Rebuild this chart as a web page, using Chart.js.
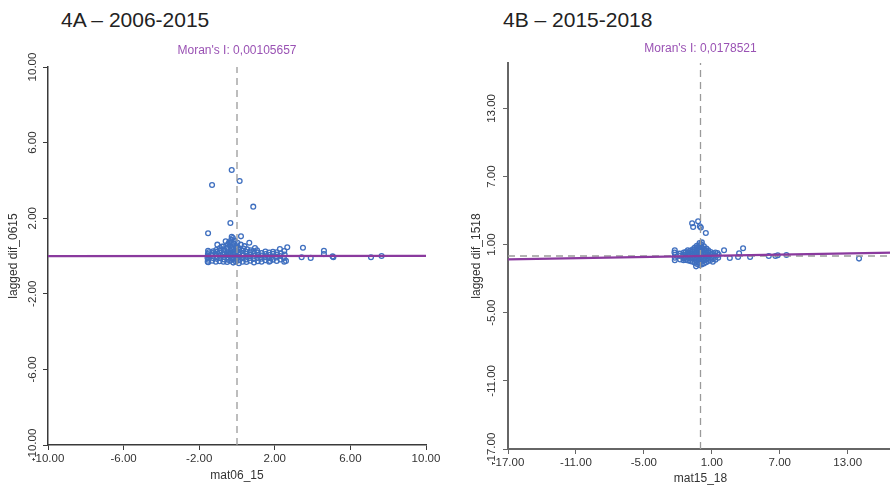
<!DOCTYPE html>
<html>
<head>
<meta charset="utf-8">
<script src="https://cdn.jsdelivr.net/npm/chart.js@4.4.1/dist/chart.umd.min.js"></script>
<style>
  body { margin: 0; width: 890px; height: 487px; overflow: hidden; background: #fff; position: relative; }
  .panel { position: absolute; top: 0; height: 487px; }
  #p1 { left: 0; width: 445px; }
  #p2 { left: 445px; width: 460px; }
  .head { position: absolute; top: 9px; font: 21px/21px "Liberation Sans", sans-serif; color: #222; white-space: nowrap; }
</style>
</head>
<body>
<div class="head" style="left:61px">4A – 2006-2015</div>
<div class="head" style="left:503px">4B – 2015-2018</div>
<div class="panel" id="p1"><canvas id="c1" width="445" height="487"></canvas></div>
<div class="panel" id="p2"><canvas id="c2" width="460" height="487"></canvas></div>
<script>
// data: [x, lagged y]
let pts0615 = [
  [-0.28,4.55],[-1.32,3.76],[0.14,3.97],[0.86,2.61],[-0.35,1.75],[-1.53,1.2],[0.21,1.04],[-0.28,1.02],
  [-1.04,0.6],[-0.6,0.78],[0.65,0.7],[3.49,0.44],[2.66,0.46],[2.27,0.37],[4.6,0.28],[4.6,0.1],
  [3.42,-0.07],[3.9,-0.1],[5.06,-0.02],[5.1,-0.07],[7.09,-0.07],[7.65,0],[2.59,-0.26],[1.75,-0.26],[-1.52,-0.33],
  [-0.22,0.95],[-0.12,0.8],[0.02,0.7],[-0.42,0.72],[0.2,0.6],[-0.8,0.5],[0.4,0.52],[0.95,0.42],
  [-1.55,-0.3],[-1.52,-0.2],[-1.56,-0.1],[-1.5,0.0],[-1.54,0.1],[-1.49,0.2],[-1.53,0.28],
  [-1.32,-0.25],[-1.28,-0.1],[-1.34,0.05],[-1.3,0.15],[-1.26,0.25],
  [-1.12,-0.3],[-1.08,-0.15],[-1.1,0.0],[-1.14,0.12],[-1.06,0.22],[-1.1,0.32],
  [-0.92,-0.28],[-0.88,-0.12],[-0.9,0.02],[-0.94,0.18],[-0.86,0.3],[-0.9,0.42],
  [-0.72,-0.3],[-0.68,-0.18],[-0.7,-0.05],[-0.74,0.08],[-0.66,0.2],[-0.7,0.35],[-0.72,0.5],
  [-0.52,-0.32],[-0.48,-0.2],[-0.5,-0.06],[-0.54,0.06],[-0.46,0.16],[-0.5,0.3],[-0.52,0.45],[-0.48,0.62],
  [-0.36,-0.25],[-0.32,-0.1],[-0.35,0.04],[-0.38,0.14],[-0.34,0.28],[-0.3,0.4],[-0.36,0.55],[-0.33,0.7],[-0.3,0.86],
  [-0.2,-0.35],[-0.18,-0.2],[-0.22,-0.08],[-0.2,0.1],[-0.16,0.22],[-0.2,0.36],[-0.24,0.48],[-0.18,0.65],
  [-0.06,-0.3],[-0.02,-0.15],[-0.05,0.0],[-0.08,0.12],[-0.03,0.25],[-0.06,0.4],[-0.04,0.52],
  [0.1,-0.38],[0.12,-0.22],[0.08,-0.06],[0.1,0.08],[0.14,0.2],[0.1,0.33],[0.06,0.45],
  [0.3,-0.3],[0.28,-0.12],[0.32,0.02],[0.3,0.15],[0.26,0.28],[0.34,0.4],
  [0.5,-0.32],[0.48,-0.18],[0.52,-0.02],[0.5,0.12],[0.46,0.24],[0.54,0.36],
  [0.7,-0.25],[0.68,-0.1],[0.72,0.06],[0.7,0.2],[0.74,0.3],
  [0.9,-0.34],[0.88,-0.16],[0.92,0.0],[0.9,0.14],[0.86,0.26],
  [1.1,-0.28],[1.08,-0.1],[1.12,0.04],[1.1,0.18],[1.06,0.3],
  [1.3,-0.3],[1.28,-0.14],[1.32,0.02],[1.3,0.16],
  [1.5,-0.22],[1.48,-0.06],[1.52,0.1],[1.5,0.24],
  [1.7,-0.3],[1.68,-0.12],[1.72,0.05],[1.7,0.18],
  [1.9,-0.2],[1.88,-0.04],[1.92,0.12],[1.9,0.22],
  [2.1,-0.26],[2.08,-0.08],[2.12,0.08],[2.1,0.2],
  [2.3,-0.18],[2.28,0.0],[2.32,0.14],
  [2.5,-0.3],[2.48,-0.1],[2.52,0.08],[2.5,0.26]
];
let pts1518 = [
  [-0.74,2.89],[-0.21,3.06],[-0.65,2.56],[-0.06,2.62],[0.03,2.5],[0.47,2.03],[2.08,0.5],[3.76,0.68],
  [3.41,0.24],[3.32,-0.09],[2.59,-0.18],[4.38,-0.09],[6.03,0],[6.62,0],[6.82,0.06],[7.59,0.09],[14.0,-0.23],
  [-2.27,0.5],[-2.27,-0.38],[-2.27,-0.15],[-1.89,0.21],[-1.5,-0.38],[-0.39,-0.91],[1.5,0.26],[1.56,-0.15],
  [1.32,-0.32],[1.09,-0.5],
  [-2.3,0.3],[-2.25,0.1],[-1.8,-0.3],[-1.82,0.0],[-1.78,0.2],
  [-1.5,-0.2],[-1.52,0.1],[-1.48,0.3],
  [-1.3,-0.35],[-1.32,-0.1],[-1.28,0.15],[-1.3,0.35],
  [-1.1,-0.4],[-1.12,-0.15],[-1.08,0.1],[-1.1,0.3],[-1.12,0.5],
  [-0.9,-0.45],[-0.92,-0.2],[-0.88,0.05],[-0.9,0.25],[-0.92,0.45],
  [-0.7,-0.5],[-0.72,-0.25],[-0.68,0.0],[-0.7,0.2],[-0.72,0.4],[-0.68,0.6],
  [-0.5,-0.6],[-0.52,-0.35],[-0.48,-0.1],[-0.5,0.15],[-0.52,0.35],[-0.48,0.55],[-0.5,0.75],
  [-0.3,-0.7],[-0.32,-0.45],[-0.28,-0.2],[-0.3,0.05],[-0.32,0.3],[-0.28,0.5],[-0.3,0.7],[-0.32,0.9],
  [-0.1,-0.8],[-0.12,-0.55],[-0.08,-0.3],[-0.1,-0.05],[-0.12,0.2],[-0.08,0.45],[-0.1,0.7],[-0.12,0.95],[-0.08,1.15],
  [0.1,-0.75],[0.08,-0.5],[0.12,-0.25],[0.1,0.0],[0.08,0.25],[0.12,0.5],[0.1,0.75],[0.08,1.0],[0.12,1.2],
  [0.3,-0.65],[0.28,-0.4],[0.32,-0.15],[0.3,0.1],[0.28,0.35],[0.32,0.6],[0.3,0.85],
  [0.5,-0.55],[0.48,-0.3],[0.52,-0.05],[0.5,0.2],[0.48,0.45],[0.52,0.65],
  [0.7,-0.45],[0.68,-0.2],[0.72,0.05],[0.7,0.3],[0.68,0.5],
  [0.9,-0.35],[0.92,-0.1],[0.88,0.15],[0.9,0.35],
  [1.1,-0.25],[1.12,0.0],[1.08,0.2],
  [1.3,0.05],[1.32,0.3],[1.6,0.1]
];

// axes
let ticks0615 = [-10, -6, -2, 2, 6, 10];
let range0615 = [-10, 10];
let ticks1518 = [-17, -11, -5, 1, 7, 13];
let range1518 = [-17, 17];

// moran's I (slope of the fitted line)
let moran = [0.00105657, 0.0178521];
let moranText = ["Moran's I: 0,00105657", "Moran's I: 0,0178521"];

const FONT = "'Liberation Sans', Arial, Helvetica, sans-serif";

// R style y tick labels: rotated, centred on the tick
function yLabelsPlugin(labelX) {
  return {
    id: "yLabels",
    afterDraw(chart) {
      let s = chart.scales.y;
      let ctx = chart.ctx;
      ctx.save();
      ctx.font = "11.5px " + FONT;
      ctx.fillStyle = "#333";
      ctx.textAlign = "center";
      ctx.textBaseline = "middle";
      s.ticks.forEach((t) => {
        ctx.save();
        ctx.translate(labelX, s.getPixelForValue(t.value));
        ctx.rotate(-Math.PI / 2);
        ctx.fillText(t.value.toFixed(2), 0, 0);
        ctx.restore();
      });
      ctx.restore();
    },
  };
}

function buildChart(canvas, p) {
  let [lo, hi] = p.range;
  let slope = p.moran;
  return new Chart(canvas, {
    type: "scatter",
    data: {
      datasets: [
        {
          // fitted line
          data: [{ x: lo, y: slope * lo }, { x: hi, y: slope * hi }],
          showLine: true,
          borderColor: "#8a3a9e",
          borderWidth: 2.2,
          pointRadius: 0,
          order: 0,
        },
        {
          // mean lines
          data: [{ x: 0, y: lo }, { x: 0, y: hi }],
          showLine: true,
          borderColor: "#9a9a9a",
          borderWidth: 1.3,
          borderDash: [7, 5],
          pointRadius: 0,
          order: 1,
        },
        {
          data: [{ x: lo, y: 0 }, { x: hi, y: 0 }],
          showLine: true,
          borderColor: "#9a9a9a",
          borderWidth: 1.3,
          borderDash: [7, 5],
          pointRadius: 0,
          order: 1,
        },
        {
          data: p.pts.map(([x, y]) => ({ x, y })),
          borderColor: "#3f6fbf",
          backgroundColor: "rgba(0,0,0,0)",
          borderWidth: 1.3,
          pointRadius: 2.4,
          order: 2,
        },
      ],
    },
    plugins: [yLabelsPlugin(p.yTickX)],
    options: {
      responsive: false,
      animation: false,
      layout: { padding: { top: 0, right: p.padRight, left: 0, bottom: 0 } },
      plugins: {
        legend: { display: false },
        tooltip: { enabled: false },
        title: {
          display: true,
          text: p.title,
          fullSize: false,
          color: "#9a52b4",
          font: { family: FONT, size: 12, weight: "normal" },
          padding: p.titlePad,
        },
      },
      scales: {
        x: {
          type: "linear",
          min: lo,
          max: hi,
          afterBuildTicks: (s) => { s.ticks = p.ticks.map((v) => ({ value: v })); },
          afterFit: (s) => { s.height = p.xHeight; },
          grid: { drawOnChartArea: false, tickLength: 5, tickColor: p.axisColor, tickWidth: 1 },
          border: { color: p.axisColor, width: p.axisWidth },
          ticks: {
            padding: 2,
            color: "#333",
            font: { family: FONT, size: 11.5 },
            maxRotation: 0,
            callback: (v) => v.toFixed(2),
          },
          title: {
            display: true,
            text: p.xLabel,
            color: "#333",
            font: { family: FONT, size: 12 },
            padding: { top: 0, bottom: p.xTitlePad },
          },
        },
        y: {
          type: "linear",
          min: lo,
          max: hi,
          afterBuildTicks: (s) => { s.ticks = p.ticks.map((v) => ({ value: v })); },
          afterFit: (s) => { s.width = p.yWidth; },
          grid: { drawOnChartArea: false, tickLength: 5, tickColor: p.axisColor, tickWidth: 1 },
          border: { color: p.axisColor, width: p.axisWidth },
          ticks: { display: false },
          title: {
            display: true,
            text: p.yLabel,
            color: "#333",
            font: { family: FONT, size: 12 },
            padding: { top: p.yTitlePad, bottom: 0 },
          },
        },
      },
    },
  });
}

buildChart(document.getElementById("c1"), {
  pts: pts0615,
  range: range0615,
  ticks: ticks0615,
  moran: moran[0],
  title: moranText[0],
  xLabel: "mat06_15",
  yLabel: "lagged dif_0615",
  padRight: 19,
  titlePad: { top: 43.8, bottom: 8.8 },
  xHeight: 42,
  yWidth: 48,
  xTitlePad: 3.8,
  yTitlePad: 6.8,
  yTickX: 33,
  axisColor: "#3a3a3a",
  axisWidth: 1.5,
});

buildChart(document.getElementById("c2"), {
  pts: pts1518,
  range: range1518,
  ticks: ticks1518,
  moran: moran[1],
  title: moranText[1],
  xLabel: "mat15_18",
  yLabel: "lagged dif_1518",
  padRight: 12,
  titlePad: { top: 41.8, bottom: 6.8 },
  xHeight: 38,
  yWidth: 63,
  xTitlePad: 0.8,
  yTitlePad: 24.8,
  yTickX: 47,
  axisColor: "#666",
  axisWidth: 2,
});
</script>
</body>
</html>
